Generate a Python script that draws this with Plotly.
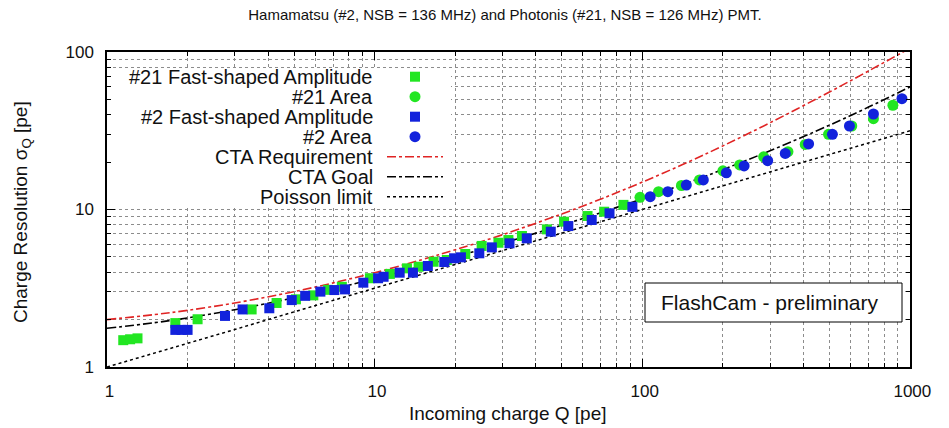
import plotly.graph_objects as go

# ---------------- data ----------------
q21_amp = [1.15, 1.22, 1.30, 1.80, 2.18, 3.47, 4.3, 5.08, 5.9, 6.7, 7.54, 9.6, 11.4, 13.2, 14.6,
           16.6, 18.6, 21.8, 25.1, 29.0, 31.6, 35.5, 44.0, 51.0, 62.4, 72.0, 85.0]
s21_amp = [1.48, 1.50, 1.52, 1.90, 2.01, 2.32, 2.55, 2.69, 2.85, 3.09, 3.23, 3.66, 3.90, 4.23, 4.33,
           4.66, 4.78, 5.22, 5.87, 6.15, 6.40, 6.79, 7.48, 8.37, 9.09, 9.68, 10.7]

q21_area = [98, 115, 140, 163.5, 200, 231, 284, 350, 406, 496, 606, 730, 863]
s21_area = [11.95, 12.97, 14.2, 15.4, 17.6, 19.2, 21.6, 23.3, 25.9, 30.0, 33.9, 37.7, 45.9]

q2_amp = [1.80, 1.90, 2.0, 2.76, 3.21, 4.04, 4.9, 5.5, 6.27, 7.07, 7.75, 9.07, 10.3, 10.8, 12.4,
          13.9, 15.8, 18.2, 19.8, 21.0, 24.6, 27.4, 31.9, 37.0, 45.5, 52.9, 64.7, 75.4, 91.8]
s2_amp = [1.72, 1.72, 1.72, 2.11, 2.32, 2.36, 2.66, 2.83, 3.01, 3.08, 3.11, 3.43, 3.66, 3.74, 3.97,
          3.97, 4.38, 4.64, 4.90, 4.97, 5.27, 5.75, 6.10, 6.56, 7.23, 7.85, 8.58, 9.46, 10.4]

q2_area = [107, 124.5, 146, 169, 206, 240, 294, 342, 418, 513, 594, 730, 933]
s2_area = [12.06, 12.97, 14.3, 15.4, 17.1, 18.9, 20.4, 22.7, 26.1, 30.0, 33.9, 40.4, 50.5]

q_curve = [1, 1.5, 2, 3, 5, 7, 10, 15, 20, 30, 50, 70, 100, 150, 200, 300, 500, 700, 1000]
cta_req = [2.00, 2.15, 2.29, 2.55, 3.01, 3.42, 3.97, 4.80, 5.55, 6.91, 9.37, 11.65, 14.93,
           20.19, 25.35, 35.54, 55.70, 75.78, 105.8]
cta_goal = [1.76, 1.91, 2.05, 2.31, 2.75, 3.13, 3.64, 4.37, 5.00, 6.10, 7.95, 9.55, 11.70,
            14.94, 17.94, 23.60, 34.31, 44.69, 60.02]
poisson = [1.00, 1.22, 1.41, 1.73, 2.24, 2.65, 3.16, 3.87, 4.47, 5.48, 7.07, 8.37, 10.0,
           12.2, 14.1, 17.3, 22.4, 26.5, 31.6]

legend_labels = ["#21 Fast-shaped Amplitude", "#21 Area", "#2 Fast-shaped Amplitude", "#2 Area",
                 "CTA Requirement", "CTA Goal", "Poisson limit"]

x_major = [1, 10, 100, 1000]
x_major_text = ["\u00a01", "\u00a010", "\u00a0100", "\u00a01000"]
y_major = [1, 10, 100]
y_major_text = ["1", "10", "100"]

GREEN = "#22e622"
BLUE = "#1222dc"
RED = "#e02424"
FONT = "Liberation Sans, Arial, Helvetica, sans-serif"

fig = go.Figure()

fig.add_trace(go.Scatter(x=q_curve, y=cta_req, mode="lines", line=dict(color=RED, width=1.6, dash="dashdot"),
                         line_shape="spline", showlegend=False))
fig.add_trace(go.Scatter(x=q_curve, y=cta_goal, mode="lines", line=dict(color="black", width=1.6, dash="dashdot"),
                         line_shape="spline", showlegend=False))
fig.add_trace(go.Scatter(x=q_curve, y=poisson, mode="lines", line=dict(color="black", width=1.5, dash="dot"),
                         showlegend=False))

fig.add_trace(go.Scatter(x=q21_amp, y=s21_amp, mode="markers",
                         marker=dict(symbol="square", size=10, color=GREEN, line=dict(width=0)), showlegend=False))
fig.add_trace(go.Scatter(x=q21_area, y=s21_area, mode="markers",
                         marker=dict(symbol="circle", size=11, color=GREEN, line=dict(width=0)), showlegend=False))
fig.add_trace(go.Scatter(x=q2_amp, y=s2_amp, mode="markers",
                         marker=dict(symbol="square", size=10, color=BLUE, line=dict(width=0)), showlegend=False))
fig.add_trace(go.Scatter(x=q2_area, y=s2_area, mode="markers",
                         marker=dict(symbol="circle", size=11, color=BLUE, line=dict(width=0)), showlegend=False))

x_minor = [m * d for d in (1, 10, 100) for m in range(2, 10)]
y_minor = [m * d for d in (1, 10) for m in range(2, 10)]

grid = dict(gridcolor="#8c8c8c", griddash="dot", gridwidth=1)

fig.update_xaxes(type="log", range=[0, 3], tickvals=x_major, ticktext=x_major_text,
                 ticks="inside", ticklen=8, tickcolor="black", tickwidth=1,
                 showline=True, linecolor="black", linewidth=1.5, mirror="allticks",
                 showgrid=True, zeroline=False, ticklabelstandoff=8,
                 tickfont=dict(family=FONT, size=17, color="#111"),
                 minor=dict(tickvals=x_minor, ticks="inside", ticklen=4, tickcolor="black",
                            showgrid=True, **grid),
                 **grid)
fig.update_yaxes(type="log", range=[0, 2], tickvals=y_major, ticktext=y_major_text,
                 ticks="inside", ticklen=8, tickcolor="black", tickwidth=1,
                 showline=True, linecolor="black", linewidth=1.5, mirror="allticks",
                 showgrid=True, zeroline=False, ticklabelstandoff=8,
                 tickfont=dict(family=FONT, size=17, color="#111"),
                 minor=dict(tickvals=y_minor, ticks="inside", ticklen=4, tickcolor="black",
                            showgrid=True, **grid),
                 **grid)

W, H = 949, 428
L, R, T, B = 107, 39, 52, 61
PW, PH = W - L - R, H - T - B


def px(xp):
    return (xp - L) / PW


def py(yp):
    return (H - B - yp) / PH


shapes = []
annotations = []

# legend background box (covers the grid)
shapes.append(dict(type="rect", xref="paper", yref="paper", x0=px(113), x1=px(451), y0=py(207), y1=py(70),
                   fillcolor="white", line=dict(width=0), layer="above"))

rows_y = [76.7, 96.7, 116.7, 136.7, 156.7, 176.7, 196.7]
for lab, yy in zip(legend_labels, rows_y):
    annotations.append(dict(text=lab, xref="paper", yref="paper", x=px(375), y=py(yy), xanchor="right",
                            yanchor="middle", showarrow=False, font=dict(family=FONT, size=20, color="#111")))

sym_x = 415
hs = 5
# squares / circles in legend
for (kind, col), yy in zip([("rect", GREEN), ("circle", GREEN), ("rect", BLUE), ("circle", BLUE)], rows_y[:4]):
    r = hs if kind == "rect" else 5.5
    shapes.append(dict(type=kind, xref="paper", yref="paper", x0=px(sym_x - r), x1=px(sym_x + r),
                       y0=py(yy + r), y1=py(yy - r), fillcolor=col, line=dict(width=0), layer="above"))
# line samples
for (col, dash, wdt), yy in zip([(RED, "dashdot", 1.6), ("black", "dashdot", 1.6), ("black", "dot", 1.5)], rows_y[4:]):
    shapes.append(dict(type="line", xref="paper", yref="paper", x0=px(387), x1=px(443), y0=py(yy), y1=py(yy),
                       line=dict(color=col, dash=dash, width=wdt), layer="above"))

# FlashCam box
shapes.append(dict(type="rect", xref="paper", yref="paper", x0=px(645), x1=px(902), y0=py(322), y1=py(283),
                   fillcolor="white", line=dict(color="black", width=1), layer="above"))
annotations.append(dict(text="FlashCam - preliminary", xref="paper", yref="paper", x=px(770), y=py(302.5),
                        xanchor="center", yanchor="middle", showarrow=False,
                        font=dict(family=FONT, size=21, color="#111")))

# axis titles
annotations.append(dict(text="Incoming charge Q [pe]", xref="paper", yref="paper", x=px(508), y=py(413),
                        xanchor="center", yanchor="middle", showarrow=False,
                        font=dict(family=FONT, size=19, color="#111")))
annotations.append(dict(text="Charge Resolution σ<sub>Q</sub> [pe]", xref="paper", yref="paper", x=px(22), y=py(212),
                        xanchor="center", yanchor="middle", showarrow=False, textangle=-90,
                        font=dict(family=FONT, size=19, color="#111")))

fig.update_layout(
    width=W, height=H, margin=dict(l=L, r=R, t=T, b=B),
    paper_bgcolor="white", plot_bgcolor="white",
    title=dict(text="Hamamatsu (#2, NSB = 136 MHz) and Photonis (#21, NSB = 126 MHz) PMT.",
               x=505 / W, xanchor="center", y=1 - 15 / H, yanchor="middle",
               font=dict(family=FONT, size=15, color="#111")),
    shapes=shapes, annotations=annotations, showlegend=False,
)

fig.write_html("out.html")
